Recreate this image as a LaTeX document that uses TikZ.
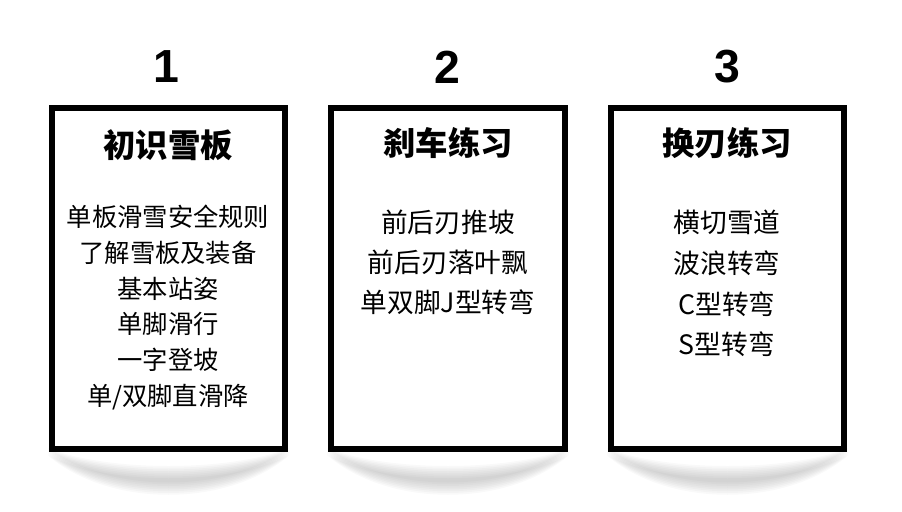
\documentclass[tikz,border=0pt]{standalone}
\usepackage{fontspec}
\newfontfamily\cjk{Noto Sans CJK SC}
\newfontfamily\numfont{Liberation Sans}
\usetikzlibrary{positioning}

\begin{document}
\begin{tikzpicture}[x=0.025cm,y=-0.025cm,
  card/.style={draw,line width=4.3pt,fill=white,minimum width=5.825cm,minimum height=8.525cm},
  num/.style={inner sep=0pt,font=\numfont\bfseries\fontsize{33}{33}\selectfont},
  title/.style={inner sep=0pt,font=\cjk\bfseries\fontsize{23}{23}\selectfont},
  items/.style={inner sep=0pt,align=center,font=\cjk\fontsize{19}{28.4}\selectfont}]
  \useasboundingbox (0,0) rectangle (902,512);
  % soft shadows under the cards
  \foreach \cx in {168.5,448,727.5}{
    \foreach \d in {-6,-4,...,8}{
      \fill[black,opacity=.025] (\cx-121,451+\d/2) .. controls (\cx-60,478+\d) and (\cx+60,478+\d) .. (\cx+121,451+\d/2)
        .. controls (\cx+60,500+\d) and (\cx-60,500+\d) .. cycle;}}
  \node[card] (c1) at (168.5,278.5) {};
  \node[card] (c2) at (448,278.5) {};
  \node[card] (c3) at (727.5,278.5) {};
  \node[num] (n1) at (166,67) {1};
  \node[num] (n2) at (447,67) {2};
  \node[num] (n3) at (727,67) {3};
  \node[title] (t1) at (168,145) {初识雪板};
  \node[title] (t2) at (448,143) {刹车练习};
  \node[title] (t3) at (727,143) {换刃练习};
  \node[items,font=\cjk\fontsize{18}{25.5}\selectfont] (l1) at (168,307.5)
    {单板滑雪安全规则\\了解雪板及装备\\基本站姿\\单脚滑行\\一字登坡\\单/双脚直滑降};
  \node[items] (l2) at (448,262) {前后刃推坡\\前后刃落叶飘\\单双脚J型转弯};
  \node[items,font=\cjk\fontsize{19}{29}\selectfont] (l3) at (727,283.5)
    {横切雪道\\波浪转弯\\C型转弯\\S型转弯};
\end{tikzpicture}
\end{document}
